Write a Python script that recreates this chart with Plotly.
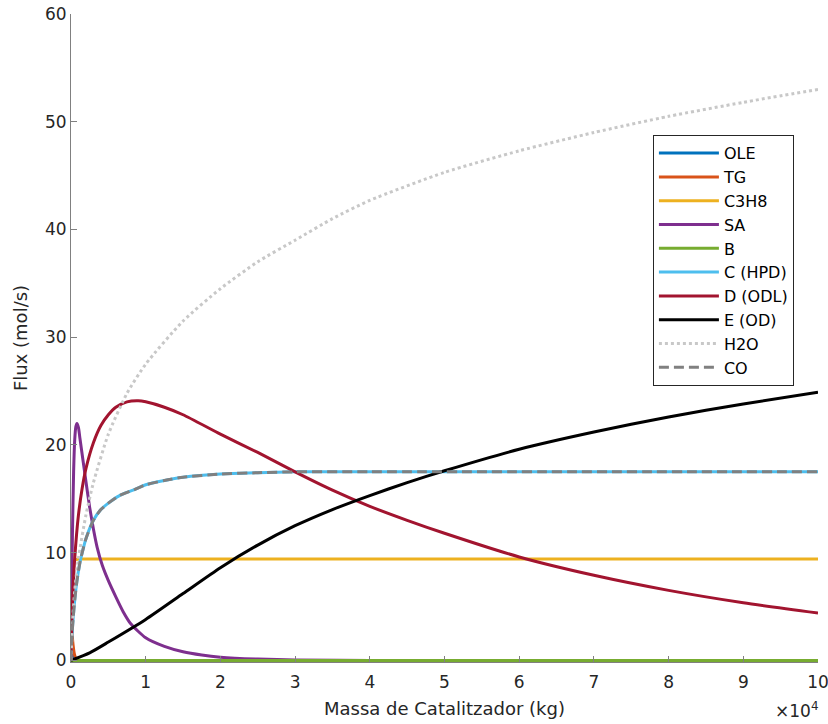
import plotly.graph_objects as go

# x in units of 1e4 kg
x_ole = [0, 0.005, 0.01, 0.02, 0.03, 0.05, 0.1, 1, 10]
y_ole = [9.5, 6.5, 4.0, 1.5, 0.5, 0.08, 0, 0, 0]

x_tg = [0, 0.01, 0.02, 0.03, 0.045, 0.06, 0.08, 0.12, 1, 10]
y_tg = [3.5, 2.8, 2.0, 1.3, 0.6, 0.25, 0.06, 0, 0, 0]

x_c3h8 = [0, 0.005, 0.01, 0.02, 0.03, 0.05, 0.1, 1, 10]
y_c3h8 = [0, 5.0, 7.2, 8.6, 9.1, 9.35, 9.4, 9.4, 9.4]

x_sa = [0, 0.01, 0.02, 0.035, 0.05, 0.065, 0.08, 0.1, 0.12, 0.16, 0.2, 0.25, 0.3, 0.35,
        0.42, 0.5, 0.6, 0.7, 0.8, 1.0, 1.25, 1.5, 1.75, 2.0, 2.5, 3.0, 4.0, 10]
y_sa = [0, 7, 12, 17.5, 20.5, 21.7, 22, 21.6, 20.6, 18.6, 16.6, 14.2, 12.2, 10.5,
        8.8, 7.4, 5.9, 4.5, 3.4, 2.1, 1.3, 0.8, 0.5, 0.3, 0.12, 0.04, 0.0, 0]

x_b = [0, 10]
y_b = [0, 0]

x_c = [0, 0.01, 0.03, 0.05, 0.08, 0.12, 0.15, 0.2, 0.3, 0.4, 0.5, 0.65, 0.83, 1.0,
       1.25, 1.5, 2.0, 2.5, 3.0, 4.0, 10]
y_c = [0, 2.0, 4.0, 5.6, 7.4, 9.1, 10.0, 11.3, 13.0, 14.0, 14.6, 15.3, 15.8, 16.3,
       16.7, 17.0, 17.3, 17.42, 17.5, 17.5, 17.5]

x_d = [0, 0.01, 0.03, 0.05, 0.1, 0.15, 0.2, 0.3, 0.4, 0.5, 0.6, 0.75, 0.9, 1.0, 1.25,
       1.5, 2.0, 2.5, 3.0, 3.5, 4.0, 4.5, 5.0, 6.0, 7.0, 8.0, 9.0, 10]
y_d = [0, 3.5, 7.0, 9.5, 13.5, 16.0, 17.8, 20.2, 21.8, 22.8, 23.5, 24.0, 24.1, 24.0, 23.5,
       22.8, 21.0, 19.3, 17.5, 15.8, 14.3, 13.0, 11.8, 9.6, 7.9, 6.5, 5.35, 4.4]

x_e = [0, 0.25, 0.5, 1.0, 1.5, 2.0, 2.5, 3.0, 3.5, 4.0, 4.5, 5.0, 6.0, 7.0, 8.0, 9.0, 10]
y_e = [0, 0.7, 1.7, 3.8, 6.2, 8.6, 10.7, 12.5, 14.0, 15.3, 16.5, 17.6, 19.6, 21.2, 22.6, 23.8, 24.9]

x_h2o = [0, 0.02, 0.05, 0.1, 0.2, 0.3, 0.5, 0.75, 1.0, 1.5, 2.0, 2.5, 3.0, 3.5, 4.0,
         5.0, 6.0, 7.0, 8.0, 9.0, 10]
y_h2o = [0, 3.5, 6.5, 9.5, 13.5, 16.5, 21.0, 24.8, 27.5, 31.5, 34.5, 37.0, 39.0, 41.0, 42.7,
         45.3, 47.3, 49.0, 50.5, 51.8, 53.0]

x_co = x_c
y_co = y_c

names = ["OLE", "TG", "C3H8", "SA", "B", "C (HPD)", "D (ODL)", "E (OD)", "H2O", "CO"]
colors = ["#0072BD", "#D95319", "#EDB120", "#7E2F8E", "#77AC30", "#4DBEEE",
          "#A2142F", "#000000", "#C8C8C8", "#808080"]
dashes = ["solid"] * 8 + ["dot", "10px,5px"]
xs = [x_ole, x_tg, x_c3h8, x_sa, x_b, x_c, x_d, x_e, x_h2o, x_co]
ys = [y_ole, y_tg, y_c3h8, y_sa, y_b, y_c, y_d, y_e, y_h2o, y_co]

x_ticks = [0, 1, 2, 3, 4, 5, 6, 7, 8, 9, 10]
y_ticks = [0, 10, 20, 30, 40, 50, 60]

fig = go.Figure()
for n, c, d, xv, yv in zip(names, colors, dashes, xs, ys):
    fig.add_trace(go.Scatter(
        x=[v * 1e4 for v in xv], y=yv, mode="lines", name=n,
        line=dict(color=c, width=3, dash=d, shape="spline", smoothing=0.6),
    ))

FONT = "DejaVu Sans, Liberation Sans, Arial, sans-serif"
axis_font = dict(family=FONT, size=17, color="#262626")
title_font = dict(family=FONT, size=18, color="#262626")
fig.update_layout(
    width=828, height=724,
    paper_bgcolor="white", plot_bgcolor="white",
    margin=dict(l=71, r=10, t=14, b=62, autoexpand=False),
    font=dict(family=FONT, color="#262626"),
    xaxis=dict(
        range=[0, 1e5], tickvals=[v * 1e4 for v in x_ticks], ticktext=[str(v) for v in x_ticks],
        ticks="inside", ticklen=6, tickcolor="#808080", showline=True, linecolor="#808080",
        linewidth=1, showgrid=False, zeroline=False, tickfont=axis_font, automargin=False,
        ticklabeloverflow="allow", ticklabelstandoff=5,
        title=dict(text="Massa de Catalitzador (kg)", font=title_font, standoff=10),
    ),
    yaxis=dict(
        range=[-0.15, 60], tickvals=y_ticks, ticks="inside", ticklen=6, tickcolor="#808080",
        showline=True, linecolor="#808080", linewidth=1, showgrid=False, zeroline=False,
        tickfont=axis_font, automargin=False, ticklabeloverflow="allow",
        title=dict(text="Flux (mol/s)", font=title_font, standoff=12),
    ),
    legend=dict(
        x=0.779, y=0.813, xanchor="left", yanchor="top",
        bgcolor="white", bordercolor="#262626", borderwidth=1,
        font=dict(family=FONT, size=16, color="#000000"), tracegroupgap=0,
        itemwidth=60,
    ),
    showlegend=True,
)
fig.add_annotation(x=1, y=0, xref="paper", yref="paper", xanchor="right", yanchor="top",
                   yshift=-35, xshift=2, showarrow=False,
                   text="×10<sup>4</sup>", font=dict(family=FONT, size=17, color="#262626"))

fig.write_html("out.html", config={"displayModeBar": False},
               post_script="document.body.style.margin='0px';")
